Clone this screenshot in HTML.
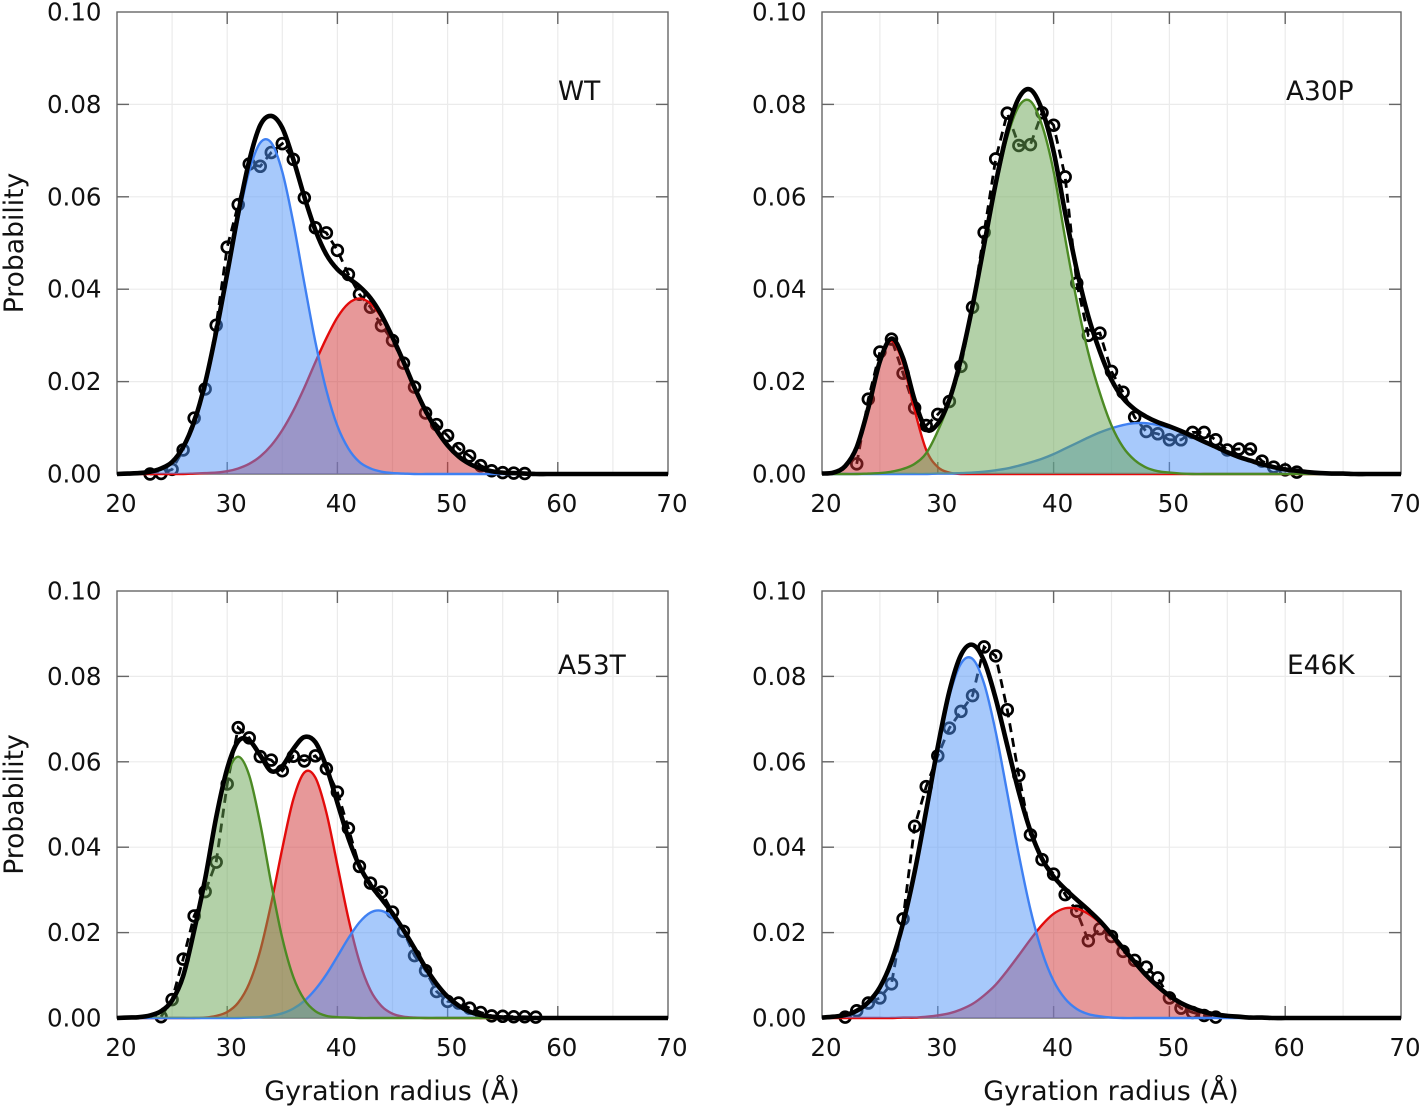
<!DOCTYPE html>
<html lang="en">
<head>
<meta charset="utf-8">
<title>Gyration radius probability distributions</title>
<style>
  html, body { margin: 0; padding: 0; background: #fff; }
  #chart { display: block; width: 1422px; height: 1109px; font-family: "DejaVu Sans", "Liberation Sans", sans-serif; }
</style>
</head>
<body>
<svg id="chart" xmlns="http://www.w3.org/2000/svg" width="1422" height="1109" viewBox="0 0 1422 1109"></svg>
<script>
const xTickLabels = [20, 30, 40, 50, 60, 70];
const yTickLabels = ["0.00", "0.02", "0.04", "0.06", "0.08", "0.10"];
const xGridValues = [25, 30, 35, 40, 45, 50, 55, 60, 65];
const curveRadius = [20,21,22,23,24,25,26,27,28,29,30,31,32,33,34,35,36,37,38,39,40,41,42,43,44,45,46,47,48,49,50,51,52,53,54,55,56,57,58,59,60,61,62,63,64,65,66,67,68,69,70];

const wtPointRadius = [23,24,25,26,27,28,29,30,31,32,33,34,35,36,37,38,39,40,41,42,43,44,45,46,47,48,49,50,51,52,53,54,55,56,57];
const wtPoints = [0,.0001,.001,.0052,.0121,.0184,.0322,.0491,.0583,.0671,.0666,.0696,.0715,.0681,.0598,.0533,.0522,.0484,.0432,.0389,.0361,.0321,.0289,.024,.0188,.0132,.0107,.0083,.0055,.0039,.0018,.0007,.0003,.0002,.0001];
const wtRed = [0,0,0,0,0,0,0,.0001,.0002,.0003, .0006,.0012,.0022,.0038,.0062,.0095,.0137,.0187,.0242,.0294, .0339,.0369,.038,.0369,.0339,.0294,.0242,.0187,.0137,.0095, .0062,.0038,.0022,.0012,.0006,.0003,.0002,.0001,0,0, 0,0,0,0,0,0,0,0,0,0, 0];
const wtBlue = [0,.0001,.0002,.0005,.0012,.0026,.0058,.0112,.0195,.0305, .0428,.0552,.0656,.0717,.0717,.0654,.0544,.0413,.0286,.0181, .0104,.0055,.0026,.0012,.0005,.0002,.0001,0,0,0, 0,0,0,0,0,0,0,0,0,0, 0,0,0,0,0,0,0,0,0,0, 0];
const wtTotal = [0,.0001,.0002,.0005,.0012,.0026,.0058,.0113,.0197,.0308, .0434,.0564,.0678,.0755,.0775,.0749,.0681,.06,.0528,.0475, .0443,.0424,.0406,.0381,.0344,.0296,.0243,.0187,.0137,.0095, .0062,.0038,.0022,.0012,.0006,.0003,.0002,.0001,0,0, 0,0,0,0,0,0,0,0,0,0, 0];

const a30pPointRadius = [23,24,25,26,27,28,29,30,31,32,33,34,35,36,37,38,39,40,41,42,43,44,45,46,47,48,49,50,51,52,53,54,55,56,57,58,59,60,61];
const a30pPoints = [.0022,.0162,.0264,.0292,.0218,.0143,.0105,.0129,.0157,.0233,.0361,.0523,.0682,.0781,.0711,.0713,.0782,.0755,.0643,.0413,.03,.0305,.0222,.0177,.0123,.0092,.0087,.0074,.0074,.009,.009,.0074,.0052,.0054,.0054,.0028,.0015,.0009,.0004];
const a30pRed = [.0001,.0003,.0017,.0058,.0142,.0242,.0288,.024,.0138,.0052, .0015,.0003,0,0,0,0,0,0,0,0, 0,0,0,0,0,0,0,0,0,0, 0,0,0,0,0,0,0,0,0,0, 0,0,0,0,0,0,0,0,0,0, 0];
const a30pBlue = [0,0,0,0,0,0,0,0,0,0, .0001,.0001,.0002,.0003,.0005,.0008,.0012,.0018,.0025,.0033, .0043,.0055,.0067,.0079,.009,.0099,.0106,.011,.011,.0106, .01,.0092,.0082,.007,.0059,.0047,.0037,.0029,.0021,.0015, .001,.0007,.0004,.0002,.0001,.0001,0,0,0,0, 0];
const a30pGreen = [0,0,0,0,.0001,.0002,.0005,.0011,.0022,.0045, .0093,.0157,.0247,.0361,.0491,.0621,.0729,.0796,.0807,.0755, .0655,.051,.0375,.0262,.0175,.0105,.0058,.003,.0014,.0006, .0003,.0001,0,0,0,0,0,0,0,0, 0,0,0,0,0,0,0,0,0,0, 0];
const a30pTotal = [.0001,.0003,.0017,.0058,.0143,.0244,.0293,.0251,.016,.0097, .0109,.0161,.0249,.0364,.0496,.0629,.0741,.0814,.0832,.0788, .0698,.0565,.0442,.0341,.0265,.0204,.0164,.014,.0124,.0112, .0103,.0093,.0082,.007,.0059,.0047,.0037,.0029,.0021,.0015, .001,.0007,.0004,.0002,.0001,.0001,0,0,0,0, 0];

const a53tPointRadius = [24,25,26,27,28,29,30,31,32,33,34,35,36,37,38,39,40,41,42,43,44,45,46,47,48,49,50,51,52,53,54,55,56,57,58];
const a53tPoints = [.0003,.0043,.0138,.0239,.0296,.0365,.0548,.068,.0656,.0612,.0604,.0579,.0613,.0602,.0614,.0584,.0529,.0444,.0355,.0316,.0295,.0248,.0203,.0146,.0111,.0062,.0039,.0035,.0023,.0013,.0005,.0004,.0003,.0003,.0002];
const a53tRed = [0,0,0,0,0,0,0,0,.0001,.0005, .0014,.0036,.0081,.0158,.0269,.0397,.0512,.0575,.0563,.0481, .0358,.0233,.0132,.0065,.0028,.001,.0003,.0001,0,0, 0,0,0,0,0,0,0,0,0,0, 0,0,0,0,0,0,0,0,0,0, 0];
const a53tBlue = [0,0,0,0,0,0,0,0,0,0, 0,0,.0001,.0002,.0005,.0011,.0022,.004,.0067,.0102, .0144,.0187,.0224,.0247,.0251,.0235,.0203,.0162,.0118,.008, .005,.0029,.0015,.0007,.0003,.0001,0,0,0,0, 0,0,0,0,0,0,0,0,0,0, 0];
const a53tGreen = [0,.0001,.0002,.0006,.0016,.0041,.0098,.0205,.0325,.0465, .057,.0612,.0568,.0455,.0314,.0187,.0096,.0043,.0016,.0005, .0002,.0001,0,0,0,0,0,0,0,0, 0,0,0,0,0,0,0,0,0,0, 0,0,0,0,0,0,0,0,0,0, 0];
const a53tTotal = [0,.0001,.0002,.0006,.0016,.0041,.0098,.0205,.0326,.047, .0584,.0648,.065,.0615,.0578,.059,.063,.0658,.0646,.0588, .0504,.0421,.0356,.0312,.0279,.0245,.0206,.0163,.0118,.008, .005,.0029,.0015,.0007,.0003,.0001,0,0,0,0, 0,0,0,0,0,0,0,0,0,0, 0];

const e46kPointRadius = [22,23,24,25,26,27,28,29,30,31,32,33,34,35,36,37,38,39,40,41,42,43,44,45,46,47,48,49,50,51,52,53,54];
const e46kPoints = [.0002,.0017,.0035,.0047,.008,.0232,.0449,.0542,.0614,.0679,.0718,.0755,.0869,.0848,.0722,.0568,.0429,.0371,.0337,.0289,.025,.0181,.0209,.0191,.0156,.0135,.0119,.0094,.0047,.0023,.0013,.0006,.0002];
const e46kRed = [0,0,0,0,0,0,0,.0001,.0001,.0003, .0006,.0011,.002,.0033,.0053,.0078,.0111,.0147,.0184,.0218, .0244,.0257,.0256,.0244,.0223,.0195,.0163,.0131,.01,.0074, .0052,.0035,.0023,.0014,.0008,.0005,.0003,.0001,.0001,0, 0,0,0,0,0,0,0,0,0,0, 0];
const e46kBlue = [.0001,.0003,.0007,.0017,.0037,.0072,.0132,.0221,.0341,.0483, .0629,.0754,.083,.0841,.0783,.067,.0527,.0382,.0254,.0155, .0087,.0045,.0021,.0009,.0004,.0001,0,0,0,0, 0,0,0,0,0,0,0,0,0,0, 0,0,0,0,0,0,0,0,0,0, 0];
const e46kTotal = [.0001,.0003,.0007,.0017,.0037,.0072,.0132,.0222,.0342,.0486, .0635,.0765,.085,.0874,.0836,.0748,.0638,.0529,.0438,.0373, .0331,.0302,.0277,.0253,.0227,.0196,.0163,.0131,.01,.0074, .0052,.0035,.0023,.0014,.0008,.0005,.0003,.0001,.0001,0, 0,0,0,0,0,0,0,0,0,0, 0];

const svgNS = "http://www.w3.org/2000/svg";
const chart = document.getElementById("chart");
const seriesStyle = {
  red:   { line: "#e30b0b", fill: "#cf3133" },
  blue:  { line: "#3f80f2", fill: "#4f94f7" },
  green: { line: "#4c8a24", fill: "#67a351" }
};
const panels = [
  { id: "wt", title: "WT", left: 117, right: 668, top: 12, bottom: 474, titleX: 558, titleY: 100, showXTitle: false, showYTitle: true,
    pointRadius: wtPointRadius, points: wtPoints, total: wtTotal,
    comps: [{ key: "red", values: wtRed }, { key: "blue", values: wtBlue }] },
  { id: "a30p", title: "A30P", left: 822, right: 1401, top: 12, bottom: 474, titleX: 1286, titleY: 100, showXTitle: false, showYTitle: false,
    pointRadius: a30pPointRadius, points: a30pPoints, total: a30pTotal,
    comps: [{ key: "red", values: a30pRed }, { key: "blue", values: a30pBlue }, { key: "green", values: a30pGreen }] },
  { id: "a53t", title: "A53T", left: 117, right: 668, top: 591, bottom: 1018, titleX: 558, titleY: 674, showXTitle: true, showYTitle: true,
    pointRadius: a53tPointRadius, points: a53tPoints, total: a53tTotal,
    comps: [{ key: "red", values: a53tRed }, { key: "blue", values: a53tBlue }, { key: "green", values: a53tGreen }] },
  { id: "e46k", title: "E46K", left: 822, right: 1401, top: 591, bottom: 1018, titleX: 1287, titleY: 674, showXTitle: true, showYTitle: false,
    pointRadius: e46kPointRadius, points: e46kPoints, total: e46kTotal,
    comps: [{ key: "red", values: e46kRed }, { key: "blue", values: e46kBlue }] }
];

function xScale(p, v) {
  const lo = xTickLabels[0];
  const hi = xTickLabels[xTickLabels.length - 1];
  return p.left + (v - lo) / (hi - lo) * (p.right - p.left);
}
function yScale(p, v) {
  const lo = parseFloat(yTickLabels[0]);
  const hi = parseFloat(yTickLabels[yTickLabels.length - 1]);
  return p.bottom - (v - lo) / (hi - lo) * (p.bottom - p.top);
}
function smoothPath(pts) {
  let d = "M" + pts[0][0].toFixed(2) + " " + pts[0][1].toFixed(2);
  for (let i = 0; i < pts.length - 1; i++) {
    const p0 = pts[Math.max(i - 1, 0)];
    const p1 = pts[i];
    const p2 = pts[i + 1];
    const p3 = pts[Math.min(i + 2, pts.length - 1)];
    const c1x = p1[0] + (p2[0] - p0[0]) / 6;
    const c1y = p1[1] + (p2[1] - p0[1]) / 6;
    const c2x = p2[0] - (p3[0] - p1[0]) / 6;
    const c2y = p2[1] - (p3[1] - p1[1]) / 6;
    d += "C" + c1x.toFixed(2) + " " + c1y.toFixed(2) + " " + c2x.toFixed(2) + " " + c2y.toFixed(2) + " " + p2[0].toFixed(2) + " " + p2[1].toFixed(2);
  }
  return d;
}
function make(tag, attrs, parent) {
  const el = document.createElementNS(svgNS, tag);
  for (const k in attrs) el.setAttribute(k, attrs[k]);
  parent.appendChild(el);
  return el;
}

panels.forEach(function (p) {
  const g = make("g", {}, chart);
  
  

  xGridValues.forEach(function (v) {
    const x = xScale(p, v);
    const el = make("line", { x1: x, x2: x, y1: p.top, y2: p.bottom, stroke: "#ebebeb", "stroke-width": 1.2 }, g);
    
    
  });
  yTickLabels.slice(1, -1).forEach(function (t) {
    const y = yScale(p, parseFloat(t));
    const el = make("line", { x1: p.left, x2: p.right, y1: y, y2: y, stroke: "#ebebeb", "stroke-width": 1.2 }, g);
    
    
  });

  xTickLabels.forEach(function (t, i) {
    const x = xScale(p, t);
    if (i > 0 && i < xTickLabels.length - 1) {
      const bottomTick = make("line", { x1: x, x2: x, y1: p.bottom, y2: p.bottom - 12, stroke: "#666", "stroke-width": 1.4 }, g);
      
      
      const topTick = make("line", { x1: x, x2: x, y1: p.top, y2: p.top + 12, stroke: "#666", "stroke-width": 1.4 }, g);
      
      
    }
    const label = make("text", { x: x + 4, y: p.bottom + 38, "text-anchor": "middle", "font-size": 24.5, fill: "#111" }, g);
    label.textContent = String(t);
    
    
  });
  yTickLabels.forEach(function (t, i) {
    const y = yScale(p, parseFloat(t));
    if (i > 0 && i < yTickLabels.length - 1) {
      const leftTick = make("line", { x1: p.left, x2: p.left + 12, y1: y, y2: y, stroke: "#666", "stroke-width": 1.4 }, g);
      
      
      const rightTick = make("line", { x1: p.right, x2: p.right - 12, y1: y, y2: y, stroke: "#666", "stroke-width": 1.4 }, g);
      
      
    }
    const label = make("text", { x: p.left - 15.5, y: y + 8.5, "text-anchor": "end", "font-size": 24.5, fill: "#111" }, g);
    label.textContent = t;
    
    
  });

  const frame = make("rect", { x: p.left, y: p.top, width: p.right - p.left, height: p.bottom - p.top, fill: "none", stroke: "#666", "stroke-width": 1.4 }, g);
  
  

  const dataXY = p.pointRadius.map(function (r, i) { return [xScale(p, r), yScale(p, p.points[i])]; });
  const dashed = make("polyline", { points: dataXY.map(function (q) { return q[0].toFixed(2) + "," + q[1].toFixed(2); }).join(" "), fill: "none", stroke: "#000", "stroke-width": 2.8, "stroke-dasharray": "9 6" }, g);
  
  
  dataXY.forEach(function (q) {
    const c = make("circle", { cx: q[0], cy: q[1], r: 5.4, fill: "none", stroke: "#000", "stroke-width": 2.7 }, g);
    
    
  });

  p.comps.forEach(function (comp) {
    const style = seriesStyle[comp.key];
    const pts = curveRadius.map(function (r, i) { return [xScale(p, r), yScale(p, comp.values[i])]; });
    const line = smoothPath(pts);
    const base = yScale(p, 0);
    const area = make("path", { d: line + "L" + pts[pts.length - 1][0].toFixed(2) + " " + base + "L" + pts[0][0].toFixed(2) + " " + base + "Z", fill: style.fill, "fill-opacity": 0.5, stroke: "none" }, g);
    
    
    const curve = make("path", { d: line, fill: "none", stroke: style.line, "stroke-width": 2.4 }, g);
    
    
  });

  const totalPts = curveRadius.map(function (r, i) { return [xScale(p, r), yScale(p, p.total[i])]; });
  const totalLine = make("path", { d: smoothPath(totalPts), fill: "none", stroke: "#000", "stroke-width": 4.6, "stroke-linejoin": "round" }, g);
  
  

  const title = make("text", { x: p.titleX, y: p.titleY, "font-size": 26.4, fill: "#111" }, g);
  title.textContent = p.title;
  
  

  if (p.showXTitle) {
    const xTitle = make("text", { x: (p.left + p.right) / 2 - 0.5, y: 1100, "text-anchor": "middle", "font-size": 26.9, fill: "#111" }, g);
    xTitle.textContent = "Gyration radius (Å)";
    
    
  }
  if (p.showYTitle) {
    const cy = (p.top + p.bottom) / 2;
    const yTitle = make("text", { x: 0, y: 0, transform: "translate(23 " + cy + ") rotate(-90)", "text-anchor": "middle", "font-size": 26.6, fill: "#111" }, g);
    yTitle.textContent = "Probability";
    
    
  }
});
</script>
</body>
</html>
